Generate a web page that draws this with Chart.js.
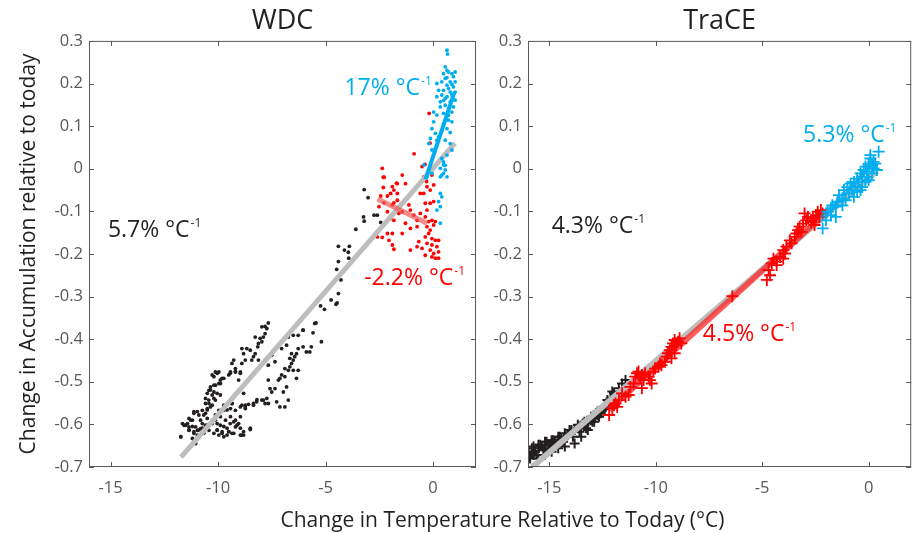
<!DOCTYPE html>
<html>
<head>
<meta charset="utf-8">
<script src="https://cdn.jsdelivr.net/npm/chart.js@4.4.1/dist/chart.umd.min.js"></script>
<style>
  body { margin: 0; background: #fff; }
  #wrap { position: relative; width: 919px; height: 533px; overflow: hidden; font-family: "Open Sans", sans-serif; }
  #wdc { position: absolute; left: 0; top: 0; }
  #trace { position: absolute; left: 480px; top: 0; }
  #xTitle { position: absolute; left: 89px; width: 827px; top: 507px; line-height: 24px; text-align: center; font-size: 21px; color: #231f20; }
</style>
</head>
<body>
<div id="wrap">
  <canvas id="wdc" width="480" height="533"></canvas>
  <canvas id="trace" width="439" height="533"></canvas>
  <div id="xTitle">Change in Temperature Relative to Today (°C)</div>
</div>
<script>
// ---------- axes ----------
const xTicks = [-15, -10, -5, 0];
const yTicks = [-0.7, -0.6, -0.5, -0.4, -0.3, -0.2, -0.1, 0, 0.1, 0.2, 0.3];

// ---------- WDC (ice core) : [temperature change, accumulation change] ----------
const wdcGlacial = [
  [-7.66,-0.362],[-7.81,-0.370],[-7.96,-0.371],[-7.73,-0.375],[-7.81,-0.387],[-7.89,-0.395],[-8.04,-0.398],[-7.96,-0.406],
  [-8.12,-0.410],[-8.15,-0.418],[-8.27,-0.395],[-8.50,-0.426],[-8.66,-0.422],[-8.89,-0.422],[-8.81,-0.434],[-8.27,-0.434],
  [-8.35,-0.441],[-8.12,-0.449],[-8.43,-0.449],[-8.73,-0.449],[-8.89,-0.457],[-9.27,-0.449],[-9.19,-0.469],[-9.35,-0.457],
  [-9.42,-0.477],[-9.19,-0.477],[-8.96,-0.477],[-9.50,-0.484],[-9.04,-0.496],[-9.96,-0.477],[-10.12,-0.477],[-10.27,-0.484],
  [-9.81,-0.492],[-9.89,-0.496],[-9.96,-0.504],[-10.12,-0.508],[-10.35,-0.512],[-10.42,-0.520],[-10.19,-0.524],[-10.58,-0.539],
  [-10.12,-0.543],[-10.42,-0.551],[-10.27,-0.555],[-10.50,-0.563],[-10.73,-0.567],[-10.58,-0.574],[-10.89,-0.578],[-11.12,-0.570],
  [-11.19,-0.590],[-11.35,-0.586],[-11.50,-0.602],[-11.35,-0.606],[-11.04,-0.606],[-10.81,-0.610],[-10.73,-0.598],[-10.50,-0.602],
  [-10.27,-0.598],[-10.12,-0.590],[-10.42,-0.614],[-10.66,-0.621],[-10.96,-0.614],[-11.12,-0.621],[-11.35,-0.614],[-11.65,-0.598],
  [-11.73,-0.629],[-11.19,-0.633],[-11.04,-0.645],[-10.04,-0.614],[-9.96,-0.625],[-9.81,-0.621],[-9.73,-0.629],[-9.58,-0.625],
  [-9.50,-0.617],[-9.35,-0.621],[-9.19,-0.606],[-9.04,-0.598],[-8.96,-0.625],[-8.81,-0.625],[-8.50,-0.612],[-9.19,-0.590],
  [-9.42,-0.582],[-9.65,-0.590],[-9.96,-0.567],[-9.73,-0.567],[-9.42,-0.563],[-9.19,-0.567],[-8.96,-0.559],[-8.73,-0.559],
  [-8.81,-0.527],[-9.35,-0.551],[-9.73,-0.555],[-9.89,-0.531],[-10.04,-0.527],[-10.19,-0.539],
  [-10.04,-0.480],[-9.73,-0.492],[-9.89,-0.504],[-10.19,-0.508],[-10.35,-0.519],[-10.50,-0.527],[-10.27,-0.531],[-10.43,-0.543],
  [-10.58,-0.551],[-10.35,-0.559],[-10.50,-0.566],[-10.66,-0.578],[-10.50,-0.586],[-10.81,-0.590],[-11.12,-0.574],[-10.96,-0.570],
  [-11.27,-0.590],[-11.42,-0.598],[-11.58,-0.602],[-11.19,-0.605],[-11.35,-0.613],[-11.12,-0.617],[-10.89,-0.613],[-10.73,-0.609],
  [-10.58,-0.602],[-10.35,-0.598],[-10.19,-0.590],[-10.04,-0.598],[-9.89,-0.602],[-9.73,-0.605],[-9.58,-0.609],[-9.81,-0.617],
  [-10.04,-0.613],[-10.19,-0.621],[-9.43,-0.598],[-9.27,-0.594],[-9.12,-0.602],[-8.96,-0.609],[-9.27,-0.621],[-9.50,-0.617],
  [-8.81,-0.617],[-8.50,-0.609],[-8.96,-0.582],[-8.73,-0.555],[-8.35,-0.551],[-8.20,-0.547],[-7.96,-0.543],[-7.81,-0.551],
  [-8.89,-0.625],[-10.96,-0.625],[-11.73,-0.629],[-11.12,-0.637],[-9.89,-0.582],[-9.58,-0.566],[-9.35,-0.551],[-10.19,-0.488],
  [-9.43,-0.480],[-9.19,-0.476],[-8.96,-0.480],[-10.12,-0.578],
  [-7.66,-0.496],[-7.58,-0.516],[-7.50,-0.524],[-7.73,-0.539],[-7.89,-0.543],[-7.66,-0.551],[-7.35,-0.516],[-7.12,-0.492],
  [-7.19,-0.496],[-7.04,-0.484],[-6.89,-0.488],[-6.73,-0.473],[-6.81,-0.512],[-6.96,-0.524],[-6.73,-0.543],[-6.89,-0.559],
  [-7.12,-0.559],[-7.27,-0.547],[-8.19,-0.542],[-8.35,-0.555],[-8.58,-0.553],[-8.89,-0.555],[-8.73,-0.563],[-6.58,-0.457],
  [-6.50,-0.449],[-6.43,-0.441],[-6.66,-0.445],[-6.58,-0.434],[-6.35,-0.434],[-6.27,-0.422],[-6.04,-0.418],[-5.89,-0.430],
  [-5.73,-0.430],[-5.66,-0.418],[-5.50,-0.363],[-5.58,-0.385],[-5.19,-0.406],[-6.04,-0.379],[-6.27,-0.391],[-6.50,-0.391],
  [-6.73,-0.395],[-6.81,-0.414],[-7.04,-0.422],[-6.35,-0.492],[-6.27,-0.473],[-6.50,-0.473],[-6.66,-0.465],[-6.89,-0.469],
  [-7.35,-0.453],[-7.50,-0.438],[-7.66,-0.461],
  [-3.20,-0.049],[-3.02,-0.068],[-3.23,-0.113],[-3.20,-0.123],[-2.74,-0.109],[-2.59,-0.109],[-3.59,-0.142],[-2.43,-0.126],
  [-4.40,-0.182],[-4.12,-0.191],[-3.89,-0.182],[-3.94,-0.196],[-3.92,-0.210],[-4.40,-0.218],[-4.48,-0.236],[-4.28,-0.261],
  [-4.40,-0.293],[-4.46,-0.315],[-4.51,-0.318],[-4.74,-0.308],[-5.23,-0.322],[-5.05,-0.330],[-5.44,-0.362],[-6.05,-0.379]
];
const wdcDeglacial = [
  [-2.36,0.001],[-2.31,-0.020],[-1.43,-0.015],[-2.31,-0.044],[-1.89,-0.042],[-1.66,-0.035],[-1.28,-0.035],[-1.66,-0.058],
  [-1.97,-0.058],[-1.82,-0.050],[-2.12,-0.064],[-2.43,-0.064],[-2.51,-0.089],[-2.28,-0.080],[-2.12,-0.101],[-1.89,-0.085],
  [-1.82,-0.080],[-1.66,-0.074],[-1.43,-0.101],[-1.59,-0.105],[-1.97,-0.117],[-1.82,-0.121],[-1.28,-0.128],[-1.43,-0.152],
  [-1.89,-0.152],[-2.05,-0.168],[-1.89,-0.179],[-1.82,-0.189],[-2.59,-0.160],[-2.36,-0.161],[-2.12,-0.152],[-1.05,-0.191],
  [-1.12,-0.085],[-1.05,-0.097],[-0.89,-0.109],[-0.74,-0.121],[-1.05,-0.140],[-0.74,-0.136],[-0.59,-0.105],[-0.59,-0.058],
  [-0.43,-0.058],[-0.36,-0.081],[-0.13,-0.081],[0.03,-0.077],[-0.28,-0.097],[-0.36,-0.113],[-0.20,-0.124],[-0.05,-0.121],
  [0.11,-0.124],[-0.28,-0.136],[0.03,-0.132],[-0.13,-0.144],[-0.20,-0.152],[-0.05,-0.164],[0.11,-0.168],[0.26,-0.168],
  [-0.28,-0.175],[-0.05,-0.179],[0.18,-0.183],[-0.13,-0.191],[-0.36,-0.203],[0.03,-0.199],[0.26,-0.195],[0.26,-0.210],
  [0.11,-0.210],[-0.05,-0.207],[-0.66,-0.171],[-0.74,-0.183],[-0.51,-0.187],[-0.36,-0.160],[-0.13,-0.050],[-0.28,-0.042],
  [0.03,-0.038],[-0.43,-0.019],[-0.05,-0.015],[-0.51,0.005],[-0.18,0.130],[-0.14,0.060],[-0.88,0.035],[-0.37,0.010],
  [-0.37,-0.020],[-0.30,-0.030],[-1.70,-0.034],[-2.27,-0.020]
];
const wdcHolocene = [
  [0.65,0.278],[0.68,0.269],[0.57,0.239],[0.65,0.231],[0.49,0.223],[0.72,0.227],[0.88,0.223],[1.03,0.227],
  [0.95,0.216],[0.57,0.212],[0.41,0.204],[0.80,0.204],[0.65,0.196],[0.95,0.192],[0.49,0.184],[0.26,0.184],
  [0.18,0.169],[0.41,0.173],[0.65,0.169],[0.88,0.173],[1.03,0.180],[0.80,0.157],[0.57,0.149],[0.34,0.145],
  [0.72,0.141],[0.95,0.145],[0.88,0.133],[0.49,0.130],[0.18,0.126],[0.03,0.110],[-0.05,0.094],[0.11,0.083],
  [-0.12,0.071],[-0.20,0.059],[-0.05,0.044],[0.18,0.067],[0.49,0.106],[0.72,0.114],[0.88,0.110],[0.65,0.094],
  [0.57,0.067],[0.80,0.059],[0.88,0.044],[0.65,0.032],[0.41,0.024],[0.57,0.008],[0.34,0.001],[0.49,-0.011],
  [0.65,-0.019],[0.34,-0.019],[1.03,0.204],[1.03,0.161],[0.18,0.200],[0.34,0.157],[0.03,0.133],[0.11,0.048],
  [0.72,0.188],[0.57,0.165],[0.80,0.180],[0.65,0.214],[0.88,0.198],[0.49,0.160],[0.72,0.125],[0.41,0.090],
  [0.26,0.075],[0.80,0.085],
  [-0.43,0.009],[-0.20,-0.003],[-0.05,-0.011],[-0.28,-0.019],[0.49,0.009],[0.57,-0.003],[0.41,-0.015],[0.34,-0.058],
  [0.41,-0.066],[0.26,-0.077],[0.34,-0.089],[0.18,-0.097],[0.34,-0.128],[0.49,0.016]
];
const wdcFitAll = [[-11.72,-0.677],[1.02,0.060]];
const wdcFitDeglacial = [[-2.58,-0.071],[-0.28,-0.128]];
const wdcFitHolocene = [[-0.35,-0.025],[1.0,0.180]];

// ---------- TraCE (model) ----------
const traceGlacial = [
  [-15.97,-0.674],[-15.82,-0.668],[-15.67,-0.664],[-15.51,-0.656],[-15.36,-0.652],[-15.20,-0.648],[-15.05,-0.648],[-14.89,-0.645],
  [-14.74,-0.641],[-14.59,-0.637],[-14.43,-0.633],[-14.28,-0.629],[-14.12,-0.625],[-13.97,-0.617],[-13.81,-0.613],[-13.66,-0.609],
  [-13.51,-0.605],[-13.35,-0.602],[-13.20,-0.598],[-13.04,-0.590],[-12.89,-0.586],[-12.73,-0.578],[-12.58,-0.570],[-12.43,-0.562],
  [-12.27,-0.555],[-12.12,-0.539],[-11.96,-0.527],[-11.73,-0.515],[-11.42,-0.496],[-15.90,-0.680],[-15.59,-0.672],[-15.28,-0.660],
  [-14.97,-0.656],[-14.66,-0.648],[-14.35,-0.641],[-13.89,-0.629],[-13.58,-0.617],[-13.27,-0.609],[-12.97,-0.594],[-12.66,-0.582],
  [-12.35,-0.559],[-12.04,-0.523],[-11.58,-0.504],[-15.74,-0.652],[-15.13,-0.641],[-14.82,-0.637],[-14.51,-0.629],[-14.05,-0.613],
  [-13.43,-0.598],[-12.81,-0.574],[-12.19,-0.547],[-15.43,-0.648],[-15.95,-0.676],[-15.98,-0.664],
  [-15.82,-0.656],[-15.51,-0.648],[-15.20,-0.641],[-14.89,-0.637],[-14.58,-0.629],[-14.27,-0.621],[-13.96,-0.613],[-13.66,-0.601],
  [-13.35,-0.594],[-13.04,-0.582],[-12.73,-0.570],[-12.42,-0.558],[-12.27,-0.543],[-11.96,-0.527],
  [-15.51,-0.680],[-15.20,-0.672],[-14.89,-0.664],[-14.58,-0.656],[-14.27,-0.652],[-13.81,-0.645],[-13.50,-0.629],[-13.19,-0.613],
  [-12.89,-0.594],[-12.58,-0.574],[-15.97,-0.664],[-15.74,-0.672]
];
const traceDeglacial = [
  [-12.19,-0.578],[-12.04,-0.562],[-11.96,-0.555],[-11.89,-0.551],[-11.81,-0.559],[-11.73,-0.543],[-11.58,-0.527],[-11.42,-0.535],
  [-11.27,-0.531],[-11.19,-0.512],[-11.04,-0.504],[-10.96,-0.488],[-10.88,-0.480],[-10.81,-0.476],[-10.65,-0.484],[-10.57,-0.496],
  [-10.73,-0.492],[-10.65,-0.515],[-10.50,-0.480],[-10.34,-0.488],[-10.27,-0.496],[-10.19,-0.504],[-10.11,-0.476],[-10.03,-0.469],
  [-9.88,-0.465],[-9.80,-0.457],[-9.73,-0.461],[-9.57,-0.453],[-9.49,-0.441],[-9.42,-0.433],[-9.34,-0.426],[-9.26,-0.418],
  [-9.19,-0.410],[-9.11,-0.402],[-9.03,-0.414],[-8.95,-0.406],[-8.88,-0.398],[-8.80,-0.410],[-9.11,-0.433],[-9.26,-0.445],
  [-6.40,-0.299],
  [-4.78,-0.261],[-4.63,-0.250],[-4.70,-0.238],[-4.55,-0.222],[-4.47,-0.211],[-4.32,-0.218],[-4.16,-0.207],[-4.01,-0.191],
  [-3.93,-0.199],[-3.86,-0.183],[-3.70,-0.168],[-3.62,-0.175],[-3.47,-0.160],[-3.39,-0.152],[-3.32,-0.144],[-3.16,-0.148],
  [-3.24,-0.136],[-3.08,-0.129],[-2.93,-0.121],[-2.85,-0.113],[-3.01,-0.105],[-2.70,-0.125],[-2.62,-0.117],[-2.47,-0.109],
  [-2.39,-0.101],[-2.31,-0.113],[-2.54,-0.132],[-2.24,-0.097],[-2.16,-0.105],[-4.32,-0.226],[-4.01,-0.211]
];
const traceHolocene = [
  [-2.16,-0.140],[-2.00,-0.121],[-1.93,-0.101],[-1.77,-0.093],[-1.70,-0.086],[-1.54,-0.089],[-1.46,-0.078],[-1.39,-0.062],
  [-1.23,-0.070],[-1.16,-0.050],[-1.00,-0.043],[-0.92,-0.058],[-0.77,-0.050],[-0.85,-0.035],[-0.69,-0.031],[-0.62,-0.043],
  [-0.54,-0.023],[-0.46,-0.031],[-0.38,-0.011],[-0.31,-0.019],[-0.23,-0.003],[-0.15,0.005],[-0.07,-0.007],[0.00,0.012],
  [0.08,0.024],[0.16,0.008],[0.23,0.001],[0.31,0.012],[0.39,-0.003],[0.08,0.032],[0.47,0.040],[-0.15,-0.031],
  [-0.31,-0.043],[-0.38,-0.050],[-0.07,-0.019],[0.16,-0.011],[-1.54,-0.113],[-1.77,-0.109],[-1.23,-0.086],[-1.08,-0.074],
  [-0.69,-0.066],[-0.54,-0.054],[0.00,-0.027],[0.23,0.016]
];
const traceFitAll = [[-15.8,-0.700],[0.4,-0.005]];
const traceFitDeglacial = [[-12.2,-0.566],[-2.3,-0.117]];
const traceFitHolocene = [[-2.2,-0.115],[0.3,0.017]];

// ---------- style ----------
const fam = '"Open Sans", sans-serif';
const ink = '#231f20';
const tickInk = '#58595b';
const red = '#ff0000';
const cyan = '#00aeef';
Chart.defaults.font.family = fam;

const toXY = arr => arr.map(p => ({ x: p[0], y: p[1] }));

function dots(data, color, order) {
  return { data: toXY(data), backgroundColor: color, borderColor: color, pointRadius: 1.9, pointBorderWidth: 0, order };
}
function crosses(data, color, r, w, order) {
  return { data: toXY(data), pointStyle: 'cross', pointRadius: r, borderColor: color, backgroundColor: color, pointBorderWidth: w, order };
}
function fit(data, color, width, order) {
  return { data: toXY(data), showLine: true, pointRadius: 0, borderColor: color, borderWidth: width, borderCapStyle: 'butt', order };
}

// box round the plot with inward ticks on all four sides
const boxAxes = {
  id: 'boxAxes',
  afterDatasetsDraw(chart) {
    const { ctx, chartArea: a, scales: { x, y } } = chart;
    ctx.save();
    ctx.strokeStyle = tickInk;
    ctx.lineWidth = 1;
    ctx.strokeRect(a.left + 0.5, a.top + 0.5, a.right - a.left - 1, a.bottom - a.top - 1);
    ctx.beginPath();
    x.ticks.forEach(t => {
      const px = Math.round(x.getPixelForValue(t.value)) + 0.5;
      ctx.moveTo(px, a.bottom); ctx.lineTo(px, a.bottom - 5);
      ctx.moveTo(px, a.top); ctx.lineTo(px, a.top + 5);
    });
    y.ticks.forEach(t => {
      const py = Math.round(y.getPixelForValue(t.value)) + 0.5;
      ctx.moveTo(a.left, py); ctx.lineTo(a.left + 5, py);
      ctx.moveTo(a.right, py); ctx.lineTo(a.right - 5, py);
    });
    ctx.stroke();
    ctx.restore();
  }
};

// slope labels, "% °C" with a raised -1
function slopeNotes(items) {
  return {
    id: 'slopeNotes',
    afterDatasetsDraw(chart) {
      const { ctx, scales: { x, y } } = chart;
      ctx.save();
      ctx.textBaseline = 'alphabetic';
      ctx.textAlign = 'left';
      items.forEach(n => {
        const px = x.getPixelForValue(n.x);
        const base = y.getPixelForValue(n.y) + 8.2;
        ctx.fillStyle = n.color;
        ctx.font = '23px ' + fam;
        ctx.fillText(n.text, px, base);
        const w = ctx.measureText(n.text).width;
        ctx.font = '12px ' + fam;
        ctx.fillText('-1', px + w + 1, base - 10);
      });
      ctx.restore();
    }
  };
}

function makeChart(id, title, yWidth, yTitle, padRight, datasets, notes) {
  return new Chart(document.getElementById(id), {
    type: 'scatter',
    data: { datasets },
    options: {
      responsive: false,
      animation: false,
      events: [],
      layout: { padding: { left: 0, right: padRight, top: 0, bottom: 0 } },
      plugins: {
        legend: { display: false },
        tooltip: { enabled: false },
        title: {
          display: true, text: title, color: ink, fullSize: false,
          font: { family: fam, size: 27, weight: 'normal' },
          padding: { top: 5.5, bottom: 3 }
        }
      },
      scales: {
        x: {
          type: 'linear', min: -16, max: 2,
          afterBuildTicks: s => { s.ticks = xTicks.map(v => ({ value: v })); },
          afterFit: s => { s.height = 66; },
          grid: { display: false, drawTicks: false },
          border: { display: false },
          ticks: { color: tickInk, font: { family: fam, size: 16.5 }, padding: 11, maxRotation: 0, callback: v => String(v) }
        },
        y: {
          type: 'linear', min: -0.7, max: 0.3,
          afterBuildTicks: s => { s.ticks = yTicks.map(v => ({ value: v })); },
          afterFit: s => { s.width = yWidth; },
          grid: { display: false, drawTicks: false },
          border: { display: false },
          title: {
            display: !!yTitle, text: yTitle || '', color: ink,
            font: { family: fam, size: 21 }, padding: { top: 16, bottom: 0 }
          },
          ticks: { color: tickInk, font: { family: fam, size: 16.5 }, padding: 6, callback: v => v === 0 ? '0' : v.toFixed(1) }
        }
      }
    },
    plugins: [boxAxes, slopeNotes(notes)]
  });
}

makeChart('wdc', 'WDC', 89, 'Change in Accumulation relative to today', 2, [
  fit(wdcFitHolocene, cyan, 4, 1),
  dots(wdcHolocene, cyan, 2),
  fit(wdcFitDeglacial, 'rgba(240,90,90,0.7)', 5, 3),
  fit(wdcFitAll, '#bdbdbd', 5, 4),
  dots(wdcDeglacial, red, 5),
  dots(wdcGlacial, ink, 6)
], [
  { text: '5.7% °C', x: -15.12, y: -0.140, color: ink },
  { text: '17% °C', x: -4.12, y: 0.193, color: cyan },
  { text: '-2.2% °C', x: -3.20, y: -0.253, color: red }
]);

makeChart('trace', 'TraCE', 48, null, 3, [
  crosses(traceHolocene, cyan, 6, 1.8, 1),
  fit(traceFitHolocene, 'rgba(0,174,239,0.6)', 5, 2),
  crosses(traceDeglacial, red, 6, 1.8, 3),
  fit(traceFitDeglacial, 'rgba(255,40,40,0.75)', 6, 4),
  fit(traceFitAll, '#bdbdbd', 6, 5),
  crosses(traceGlacial, ink, 5, 2, 6)
], [
  { text: '4.3% °C', x: -14.89, y: -0.132, color: ink },
  { text: '5.3% °C', x: -3.08, y: 0.083, color: cyan },
  { text: '4.5% °C', x: -7.79, y: -0.386, color: red }
]);
</script>
</body>
</html>
